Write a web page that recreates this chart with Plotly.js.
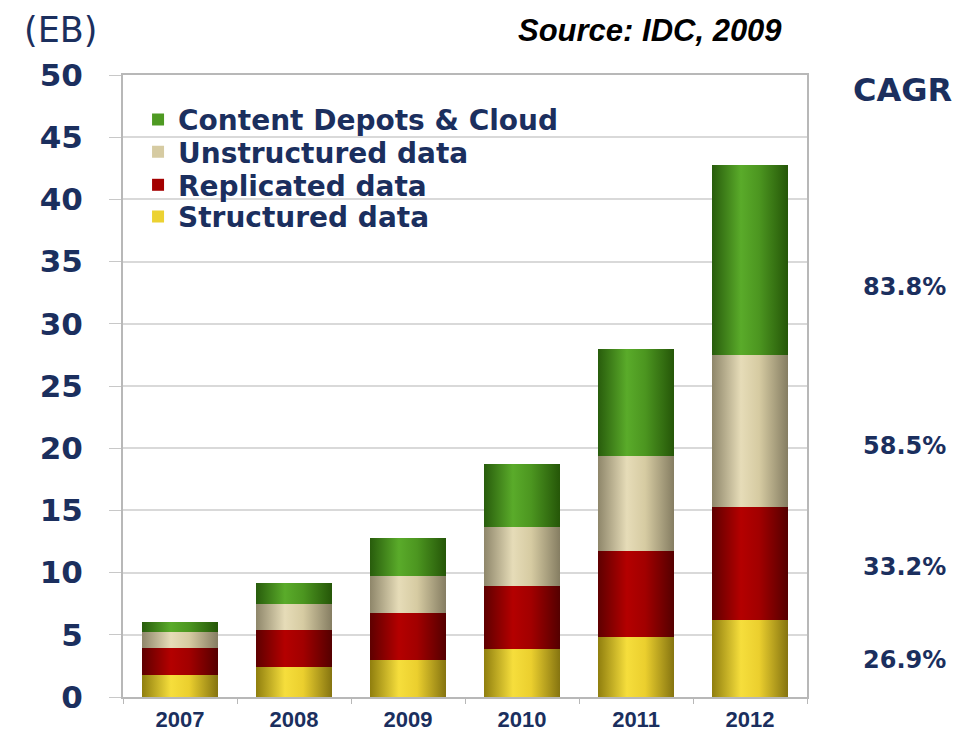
<!DOCTYPE html>
<html><head><meta charset="utf-8">
<script src="https://cdn.plot.ly/plotly-3.0.1.min.js"></script>
<style>html,body{margin:0;padding:0;background:#fff;}#chart{width:978px;height:745px;}</style>
</head><body><div id="chart"></div>
<script>
const years = ["2007","2008","2009","2010","2011","2012"];
const structured = [1.75, 2.45, 3.0, 3.85, 4.85, 6.15];
const replicated = [2.2, 2.95, 3.75, 5.1, 6.85, 9.15];
const unstructured = [1.3, 2.1, 2.95, 4.75, 7.65, 12.2];
const contentDepots = [0.75, 1.65, 3.1, 5.05, 8.65, 15.25];
const seriesNames = ["Structured data","Replicated data","Unstructured data","Content Depots & Cloud"];
const cagrLabels = ["26.9%","33.2%","58.5%","83.8%"];
const yTicks = [0,5,10,15,20,25,30,35,40,45,50];

const navy = "#1b2f5e";
const font = "Liberation Sans, Arial, sans-serif";
const wide = "DejaVu Sans, Verdana, sans-serif";
const colors = ["#ecd232","#a40000","#d6cba2","#4e9a22"];
const grads = [
  ["#8f7e0e","#f6de3c","#ebcf2e","#857410"],
  ["#5e0000","#b40000","#a20000","#540000"],
  ["#8e866a","#e6dcb8","#d6cba2","#857d62"],
  ["#285c0c","#5aab2a","#4c9620","#255608"]
];
const seriesData = [structured, replicated, unstructured, contentDepots];
const legendIds = ["legend4","legend3","legend2","legend"];
const legendY = [0.772, 0.823, 0.876, 0.928];

const traces = seriesData.map((d,i)=>({
  type:"bar", x:years, y:d, name:"<b>"+seriesNames[i]+"</b>",
  legend:legendIds[i],
  marker:{color:colors[i], line:{width:0}},
  hoverinfo:"x+y+name"
}));

const cagrY = [0.059, 0.209, 0.404, 0.659];
const annotations = [
  {text:"(EB)", xref:"paper", yref:"paper", x:-0.092, y:1.072, xanchor:"center", yanchor:"middle", showarrow:false, font:{family:wide,size:35,color:navy}},
  {text:"<b><i>Source: IDC, 2009</i></b>", xref:"paper", yref:"paper", x:0.77, y:1.072, xanchor:"center", yanchor:"middle", showarrow:false, font:{family:font,size:31,color:"#000"}},
  {text:"<b>CAGR</b>", xref:"paper", yref:"paper", x:1.140, y:0.976, xanchor:"center", yanchor:"middle", showarrow:false, font:{family:wide,size:32,color:navy}}
].concat(cagrLabels.map((t,i)=>({text:"<b>"+t+"</b>", xref:"paper", yref:"paper", x:1.143, y:cagrY[i], xanchor:"center", yanchor:"middle", showarrow:false, font:{family:wide,size:24,color:navy}})));

const legendBase = (y)=>({x:0.022, y:y, xanchor:"left", yanchor:"middle", bgcolor:"rgba(0,0,0,0)",
  font:{family:wide,size:28,color:navy}, itemwidth:30});

const layout = {
  width:978, height:745,
  margin:{l:123, r:171, t:75, b:48},
  paper_bgcolor:"#fff", plot_bgcolor:"#fff",
  barmode:"stack", bargap:0.333,
  showlegend:true,
  legend:legendBase(legendY[3]),
  legend2:legendBase(legendY[2]),
  legend3:legendBase(legendY[1]),
  legend4:legendBase(legendY[0]),
  xaxis:{type:"category", showgrid:false, showline:true, linecolor:"#b8b8b8", linewidth:2, mirror:true,
    ticks:"outside", tickson:"boundaries", ticklen:5, tickcolor:"#b8b8b8",
    tickvals:years, ticktext:years.map(v=>"<b>"+v+"</b>"),
    tickfont:{family:font,size:22,color:navy}, ticklabelstandoff:2},
  yaxis:{range:[0,50], tickvals:yTicks, ticktext:yTicks.map(v=>"<b>"+v+"</b>"), showgrid:true, gridcolor:"#d9d9d9", gridwidth:2,
    showline:true, linecolor:"#b8b8b8", linewidth:2, mirror:true, ticks:"outside", ticklen:12, tickcolor:"#c8c8c8",
    tickfont:{family:wide,size:31,color:navy}, ticklabelstandoff:20, zeroline:false},
  annotations:annotations
};

Plotly.newPlot("chart", traces, layout, {displayModeBar:false, staticPlot:true}).then(gd=>{
  const svg = gd.querySelector("svg.main-svg");
  const ns = "http://www.w3.org/2000/svg";
  let defs = svg.querySelector("defs");
  if(!defs){defs=document.createElementNS(ns,"defs");svg.insertBefore(defs,svg.firstChild);}
  grads.forEach((g,i)=>{
    const lg = document.createElementNS(ns,"linearGradient");
    lg.setAttribute("id","bargrad"+i);
    lg.setAttribute("x1","0");lg.setAttribute("x2","1");lg.setAttribute("y1","0");lg.setAttribute("y2","0");
    [0,0.38,0.62,1].forEach((o,k)=>{
      const s=document.createElementNS(ns,"stop");
      s.setAttribute("offset",o);s.setAttribute("stop-color",g[k]);lg.appendChild(s);
    });
    defs.appendChild(lg);
  });
  const groups = gd.querySelectorAll(".barlayer .trace");
  groups.forEach((tg,i)=>{
    tg.querySelectorAll("path").forEach(p=>{p.style.fill="url(#bargrad"+i+")";});
  });
});
</script></body></html>
